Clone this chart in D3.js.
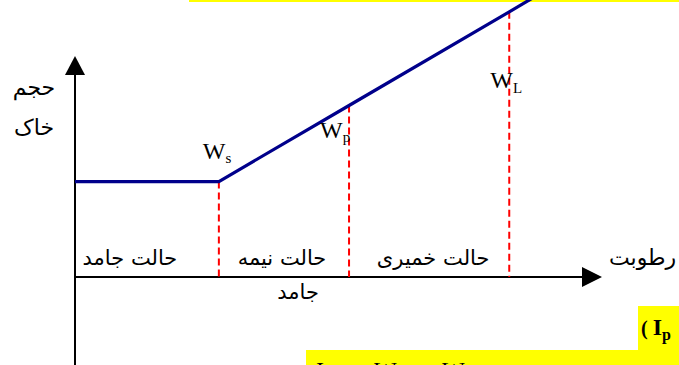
<!DOCTYPE html>
<html>
<head>
<meta charset="utf-8">
<script src="https://cdn.jsdelivr.net/npm/d3@7"></script>
<style>
  html, body { margin: 0; padding: 0; background: #fff; }
  svg { display: block; }
</style>
</head>
<body>
<div id="chart"></div>
<script>
// Soil volume vs. moisture content: consistency limits (Atterberg)
const moistureDomain = [0, 100];
const volumeDomain = [0, 100];

// moisture content at the shrinkage, plastic and liquid limits
const limitMoisture = [27.3, 52.0, 82.4];
const limitSymbols = ["W", "W", "W"];
const limitSubscripts = ["s", "p", "L"];

// volume curve (constant below the shrinkage limit, then rising linearly)
const curveMoisture = [0, 27.3, 52.0, 82.4, 92.0];
const curveVolume = [43.2, 43.2, 77.6, 120.0, 133.5];

// state names for each moisture range
const stateLines = [["حالت جامد"], ["حالت نیمه", "جامد"], ["حالت خمیری"]];
const yAxisTitle = ["حجم", "خاک"];
const xAxisTitle = "رطوبت";

const W = 679, H = 365;
const svg = d3.select("#chart").append("svg")
  .attr("width", W).attr("height", H);

const x = d3.scaleLinear().domain(moistureDomain).range([75, 602]);
const y = d3.scaleLinear().domain(volumeDomain).range([277, 56]);

const persian = "'DejaVu Sans', sans-serif";
const serif = "'Liberation Serif', 'Times New Roman', serif";

// highlight strips
svg.append("rect").attr("x", 189).attr("y", 0).attr("width", W - 189).attr("height", 2)
  .attr("fill", "#ffff00");
svg.append("rect").attr("x", 638).attr("y", 306).attr("width", W - 638).attr("height", 44)
  .attr("fill", "#ffff00");
svg.append("rect").attr("x", 306).attr("y", 350).attr("width", W - 306).attr("height", 15)
  .attr("fill", "#ffff00");

// axes
const x0 = x(0), y0 = y(0);
svg.append("line").attr("x1", x0).attr("x2", x(96.3)).attr("y1", y0).attr("y2", y0)
  .attr("stroke", "#000").attr("stroke-width", 2);
svg.append("path")
  .attr("d", `M${x(100)},${y0} L${x(96.2)},${y0 - 10} L${x(96.2)},${y0 + 10} Z`)
  .attr("fill", "#000");
svg.append("line").attr("x1", x0).attr("x2", x0).attr("y1", y(-45)).attr("y2", y(91.6))
  .attr("stroke", "#000").attr("stroke-width", 2);
svg.append("path")
  .attr("d", `M${x0},${y(100)} L${x0 - 10},${y(91.4)} L${x0 + 10},${y(91.4)} Z`)
  .attr("fill", "#000");

// dashed limit lines down to the moisture axis
const volumeAt = m => {
  for (let i = 1; i < curveMoisture.length; i++) {
    if (m <= curveMoisture[i]) {
      const t = (m - curveMoisture[i - 1]) / (curveMoisture[i] - curveMoisture[i - 1]);
      return curveVolume[i - 1] + t * (curveVolume[i] - curveVolume[i - 1]);
    }
  }
  return curveVolume[curveVolume.length - 1];
};
svg.selectAll(".limit").data(limitMoisture).join("line")
  .attr("class", "limit")
  .attr("x1", d => x(d)).attr("x2", d => x(d))
  .attr("y1", d => y(volumeAt(d))).attr("y2", y0)
  .attr("stroke", "#ff0000").attr("stroke-width", 2)
  .attr("stroke-dasharray", "7,4");

// volume curve
const line = d3.line().x(d => x(d[0])).y(d => y(d[1]));
svg.append("path")
  .datum(curveMoisture.map((m, i) => [m, curveVolume[i]]))
  .attr("d", line)
  .attr("fill", "none").attr("stroke", "#00008b").attr("stroke-width", 3.2)
  .attr("stroke-linejoin", "miter");

// limit labels W with subscript
const labelOffsets = [[-16, 159], [-29, 138], [-19, 88]];
limitMoisture.forEach((m, i) => {
  const t = svg.append("text")
    .attr("x", x(m) + labelOffsets[i][0]).attr("y", labelOffsets[i][1])
    .attr("font-family", serif).attr("font-size", 24).attr("fill", "#000");
  t.append("tspan").text(limitSymbols[i]);
  t.append("tspan").attr("font-size", 15).attr("dy", i === 2 ? 5 : 4).text(limitSubscripts[i]);
});

// state labels between the limits
const bounds = [0, ...limitMoisture];
const stateDx = [-17, -2, 4];
stateLines.forEach((lines, i) => {
  const cx = (x(bounds[i]) + x(bounds[i + 1])) / 2 + stateDx[i];
  lines.forEach((s, j) => {
    svg.append("text")
      .attr("x", j === 0 ? cx : cx + 37).attr("y", 265 + j * 34)
      .attr("text-anchor", j === 0 ? "middle" : "end")
      .attr("font-family", persian).attr("font-size", 21).attr("fill", "#000")
      .text(s);
  });
});

// axis titles
yAxisTitle.forEach((s, i) => {
  svg.append("text")
    .attr("x", 34).attr("y", 95 + i * 40)
    .attr("text-anchor", "middle")
    .attr("font-family", persian).attr("font-size", 22).attr("fill", "#000")
    .text(s);
});
svg.append("text")
  .attr("x", 609).attr("y", 265)
  .attr("text-anchor", "start")
  .attr("font-family", persian).attr("font-size", 22).attr("fill", "#000")
  .text(xAxisTitle);

// plasticity index text
const pi = svg.append("text").attr("x", 641).attr("y", 335)
  .attr("font-family", serif).attr("font-weight", "bold").attr("font-size", 24).attr("fill", "#000");
pi.append("tspan").attr("font-size", 20).text("( ");
pi.append("tspan").text("I");
pi.append("tspan").attr("font-size", 16).attr("dy", 5).text("p");

const f = svg.append("text").attr("y", 378)
  .attr("font-family", serif).attr("font-size", 24).attr("fill", "#000");
f.append("tspan").attr("x", 316).text("I");
f.append("tspan").attr("font-size", 15).attr("dy", 5).text("p");
f.append("tspan").attr("x", 345).attr("dy", -5).text("=");
f.append("tspan").attr("x", 374).text("W");
f.append("tspan").attr("font-size", 15).attr("dy", 5).text("L");
f.append("tspan").attr("x", 414).attr("dy", -5).text("−");
f.append("tspan").attr("x", 442).text("W");
f.append("tspan").attr("font-size", 15).attr("dy", 5).text("p");
</script>
</body>
</html>
